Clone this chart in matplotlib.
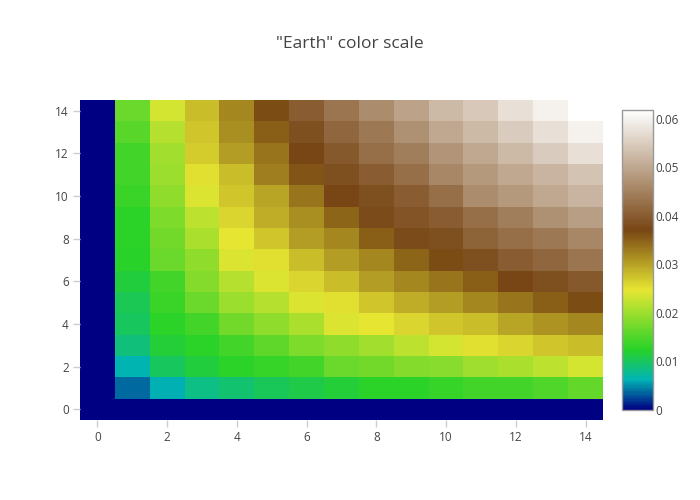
import matplotlib
matplotlib.use("Agg")
import matplotlib.pyplot as plt
import numpy as np
from matplotlib.colors import LinearSegmentedColormap

plt.rcParams['font.family'] = ['Open Sans', 'DejaVu Sans']

# x / y categories
xs = list(range(15))
ys = list(range(15))

# heatmap values (thousandths), rows = y from 0 to 14, cols = x from 0 to 14
z_row0 = [0] * 15
z_row1 = [0, 3.7, 6.2, 8.3, 9.3, 10.2, 11.1, 11.7, 12.7, 12.7, 13.3, 14.2, 14.2, 15.1, 16.4]
z_row2 = [0, 6.5, 9.9, 11.4, 12.7, 13.3, 14.2, 16.7, 17.3, 18.5, 18.8, 20.1, 21.0, 22.2, 23.5]
z_row3 = [0, 8.7, 11.7, 12.7, 14.2, 16.1, 17.9, 19.2, 20.4, 22.2, 23.5, 25.3, 26.0, 27.2, 27.8]
z_row4 = [0, 9.9, 12.7, 14.2, 17.3, 19.2, 21.0, 24.1, 24.7, 26.0, 27.2, 27.8, 29.7, 30.9, 32.1]
z_row5 = [0, 10.5, 13.6, 16.7, 19.8, 21.6, 24.1, 25.3, 27.2, 29.0, 30.3, 32.1, 33.4, 35.2, 36.5]
z_row6 = [0, 11.4, 14.2, 18.5, 21.6, 24.1, 26.0, 27.8, 30.3, 32.1, 33.4, 35.2, 37.1, 38.3, 39.6]
z_row7 = [0, 12.4, 16.7, 19.2, 24.1, 25.3, 27.8, 30.3, 32.1, 34.6, 36.5, 38.3, 40.2, 41.4, 43.3]
z_row8 = [0, 12.7, 17.3, 21.0, 24.7, 27.2, 30.3, 32.1, 35.2, 37.7, 38.3, 40.8, 42.6, 43.9, 45.7]
z_row9 = [0, 12.7, 17.9, 22.2, 26.0, 29.0, 31.5, 34.6, 37.7, 38.9, 40.2, 42.6, 44.5, 47.0, 48.8]
z_row10 = [0, 13.6, 19.2, 24.1, 27.2, 29.7, 33.4, 37.1, 38.3, 40.2, 42.6, 46.4, 48.2, 50.1, 51.9]
z_row11 = [0, 14.2, 19.8, 25.3, 27.8, 32.8, 35.8, 38.3, 40.2, 42.6, 45.7, 48.2, 50.1, 51.9, 53.8]
z_row12 = [0, 14.2, 20.4, 26.6, 30.3, 33.4, 37.1, 39.6, 42.6, 44.5, 47.6, 50.1, 52.5, 55.0, 57.5]
z_row13 = [0, 15.5, 21.6, 27.2, 31.5, 35.2, 38.3, 41.4, 43.9, 47.0, 50.1, 52.5, 55.0, 57.5, 59.9]
z_row14 = [0, 16.7, 23.5, 27.8, 32.1, 36.5, 40.2, 43.3, 46.4, 49.4, 52.5, 54.4, 57.5, 59.9, 61.8]

z = np.array([z_row0, z_row1, z_row2, z_row3, z_row4, z_row5, z_row6, z_row7,
              z_row8, z_row9, z_row10, z_row11, z_row12, z_row13, z_row14]) / 1000.0

# plotly "Earth" colorscale
earth = LinearSegmentedColormap.from_list('earth', [
    (0.0, (0/255, 0/255, 130/255)),
    (0.1, (0/255, 180/255, 180/255)),
    (0.2, (40/255, 210/255, 40/255)),
    (0.4, (230/255, 230/255, 50/255)),
    (0.6, (120/255, 70/255, 20/255)),
    (1.0, (1, 1, 1)),
])

fig = plt.figure(figsize=(7, 5), dpi=100)
ax = fig.add_axes([80/700, 80/500, 523/700, 320/500])

ax.imshow(z, origin='lower', aspect='auto', cmap=earth,
          vmin=z.min(), vmax=z.max(), interpolation='nearest',
          extent=(xs[0] - 0.5, xs[-1] + 0.5, ys[0] - 0.5, ys[-1] + 0.5))

for s in ax.spines.values():
    s.set_visible(False)
ax.set_xticks(range(0, 15, 2))
ax.set_yticks(range(0, 15, 2))
ax.tick_params(colors='#444', labelsize=8.5, length=5, width=1, pad=3)
ax.tick_params(axis='x', color='#ccc')
ax.tick_params(axis='y', color='#ccc')

fig.text(0.5, 1 - 44/500, '"Earth" color scale', ha='center', va='center',
         fontsize=12.5, color='#444')

cax = fig.add_axes([622/700, 90/500, 31/700, 300/500])
sm = plt.cm.ScalarMappable(cmap=earth, norm=plt.Normalize(z.min(), z.max()))
cb = fig.colorbar(sm, cax=cax)
cb.outline.set_edgecolor('#999')
cb.outline.set_linewidth(1)
cb.set_ticks([0, 0.01, 0.02, 0.03, 0.04, 0.05, 0.06])
cb.set_ticklabels(['0', '0.01', '0.02', '0.03', '0.04', '0.05', '0.06'])
cax.tick_params(length=0, labelsize=8.5, colors='#444', pad=2)

fig.savefig('out.png', dpi=100)
